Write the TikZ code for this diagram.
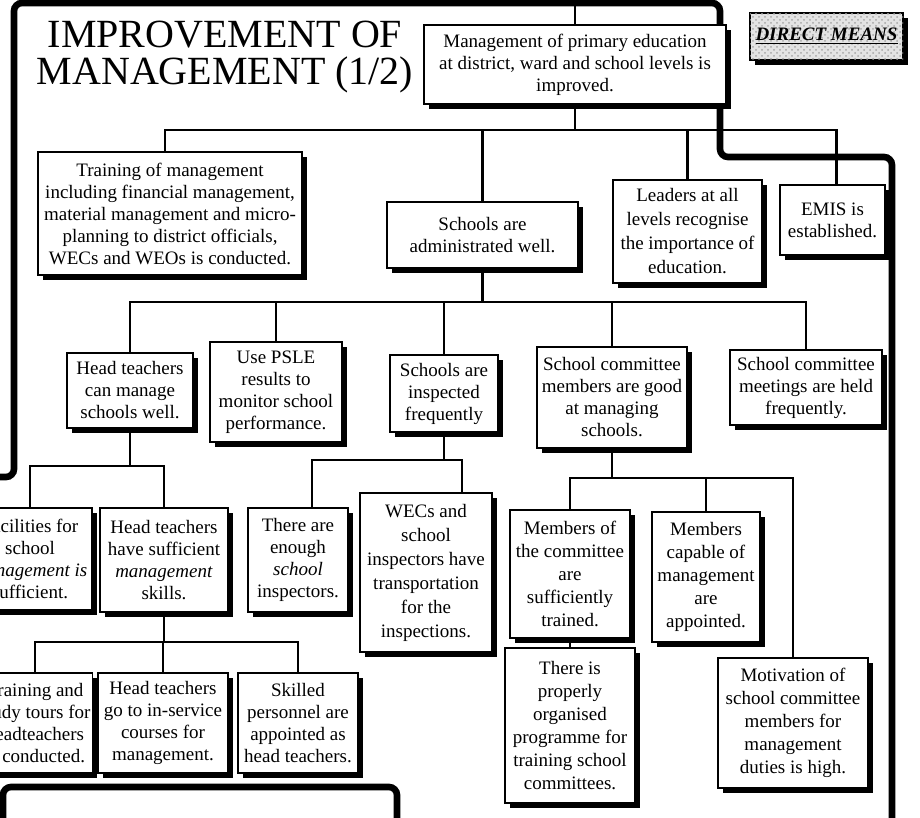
\documentclass[tikz,border=0pt]{standalone}
\usepackage{fontspec}
\setmainfont{Liberation Serif}
\usetikzlibrary{shadows,patterns}

% box from corner (x1,y1) to (x2,y2), in pixel-like units
\newcommand\mkbox[7][]{%
  \pgfmathsetmacro\mkw{(#5-#3)/2}%
  \pgfmathsetmacro\mkh{(#6-#4)/2}%
  \node[cbox, minimum width=\mkw pt, minimum height=\mkh pt, #1] (#2)
    at ({(#3+#5)/2},{(#4+#6)/2}) {#7};}

\begin{document}
\begin{tikzpicture}[x=0.5pt, y=-0.5pt,
  cbox/.style={draw=black, line width=0.8pt, fill=white, inner sep=1pt,
    align=center, font=\fontsize{9.5}{11}\selectfont,
    drop shadow={shadow xshift=2.5pt, shadow yshift=-2.5pt, fill=black, opacity=1}},
  conn/.style={line width=1.3pt},
  thickrule/.style={line width=3.3pt, rounded corners=4pt},
  title/.style={align=center, font=\fontsize{20}{18.5}\selectfont},
]
\useasboundingbox (0,0) rectangle (920,818);
\fill[white] (0,0) rectangle (920,818);
\clip (0,0) rectangle (920,818);

% heavy page frame lines
\draw[thickrule] (0,477) -- (14,477) -- (14,3) -- (720,3) -- (720,157)
  -- (892,157) -- (892,830);
\draw[thickrule] (3,830) -- (3,787) -- (397,787) -- (397,830);

% title
\node[title] (title) at (225,57) {IMPROVEMENT OF\\MANAGEMENT (1/2)};

% boxes
\mkbox{top}{424}{25}{726}{104}{Management of primary education\\at district, ward and school levels is\\improved.}
\mkbox[fill=gray!22, postaction={pattern=crosshatch dots, pattern color=gray!70},
  font=\fontsize{9.5}{11}\selectfont\bfseries\itshape]{dm}{750}{13}{903}{60}{\underline{DIRECT MEANS}}

\mkbox{train}{38}{152}{302}{275}{Training of management\\including financial management,\\material management and micro-\\planning to district officials,\\WECs and WEOs is conducted.}
\mkbox{admin}{387}{202}{578}{268}{Schools are\\administrated well.}
\mkbox[font=\fontsize{9.5}{12}\selectfont]{lead}{613}{180}{762}{283}{Leaders at all\\levels recognise\\the importance of\\education.}
\mkbox{emis}{780}{185}{885}{255}{EMIS is\\established.}

\mkbox{ht}{67}{353}{193}{428}{Head teachers\\can manage\\schools well.}
\mkbox{psle}{210}{342}{342}{442}{Use PSLE\\results to\\monitor school\\performance.}
\mkbox{insp}{390}{355}{498}{432}{Schools are\\inspected\\frequently}
\mkbox{scm}{537}{347}{687}{448}{School committee\\members are good\\at managing\\schools.}
\mkbox{scmeet}{730}{350}{882}{425}{School committee\\meetings are held\\frequently.}

\mkbox{fac}{-32}{508}{92}{610}{Facilities for\\school\\\textit{management is}\\sufficient.}
\mkbox{htsuf}{100}{508}{228}{612}{Head teachers\\have sufficient\\\textit{management}\\skills.}
\mkbox{enough}{248}{508}{348}{612}{There are\\enough\\\textit{school}\\inspectors.}
\mkbox[font=\fontsize{9.5}{12}\selectfont]{wecs}{360}{493}{492}{652}{WECs and\\school\\inspectors have\\transportation\\for the\\inspections.}
\mkbox[font=\fontsize{9.5}{11.5}\selectfont]{mct}{510}{510}{630}{638}{Members of\\the committee\\are\\sufficiently\\trained.}
\mkbox[font=\fontsize{9.5}{11.5}\selectfont]{mcap}{652}{512}{760}{642}{Members\\capable of\\management\\are\\appointed.}
\mkbox[font=\fontsize{9.5}{11.5}\selectfont]{prog}{505}{648}{635}{803}{There is\\properly\\organised\\programme for\\training school\\committees.}
\mkbox[font=\fontsize{9.5}{11.5}\selectfont]{motiv}{718}{658}{868}{788}{Motivation of\\school committee\\members for\\management\\duties is high.}

\mkbox{tst}{-22}{673}{92}{773}{Training and\\study tours for\\headteachers\\is conducted.}
\mkbox{htgo}{98}{673}{228}{773}{Head teachers\\go to in-service\\courses for\\management.}
\mkbox{skilled}{238}{673}{358}{773}{Skilled\\personnel are\\appointed as\\head teachers.}

% levels of the connector bars
\coordinate (topend) at (573,0);
\coordinate (b1) at (0,130);
\coordinate (b2) at (0,302);
\coordinate (b3) at (0,466);
\coordinate (b4) at (0,460);
\coordinate (b5) at (0,478);
\coordinate (b6) at (0,642);

% connectors
\draw[conn] (top.north) -- (top.north |- topend);
\draw[conn] (top.south) -- (top.south |- b1) -| ([xshift=-2.5pt]train.north);
\draw[conn] (top.south) -- (top.south |- b1) -| (admin.north);
\draw[conn] (top.south) -- (top.south |- b1) -| (lead.north);
\draw[conn] (top.south) -- (top.south |- b1) -| ([xshift=2pt]emis.north);

\foreach \c in {ht,psle,insp,scm,scmeet}
  \draw[conn] (admin.south) -- (admin.south |- b2) -| (\c.north);

\foreach \c in {fac,htsuf}
  \draw[conn] (ht.south) -- (ht.south |- b3) -| (\c.north);

\draw[conn] (insp.south) -- (insp.south |- b4) -| ([xshift=7pt]enough.north);
\draw[conn] (insp.south) -- (insp.south |- b4) -| ([xshift=18pt]wecs.north);

\foreach \c in {mct,mcap,motiv}
  \draw[conn] (scm.south) -- (scm.south |- b5) -| (\c.north);
\draw[conn] (mct.south) -- (prog.north);

\foreach \c in {tst,htgo,skilled}
  \draw[conn] (htsuf.south) -- (htsuf.south |- b6) -| (\c.north);
\end{tikzpicture}
\end{document}
